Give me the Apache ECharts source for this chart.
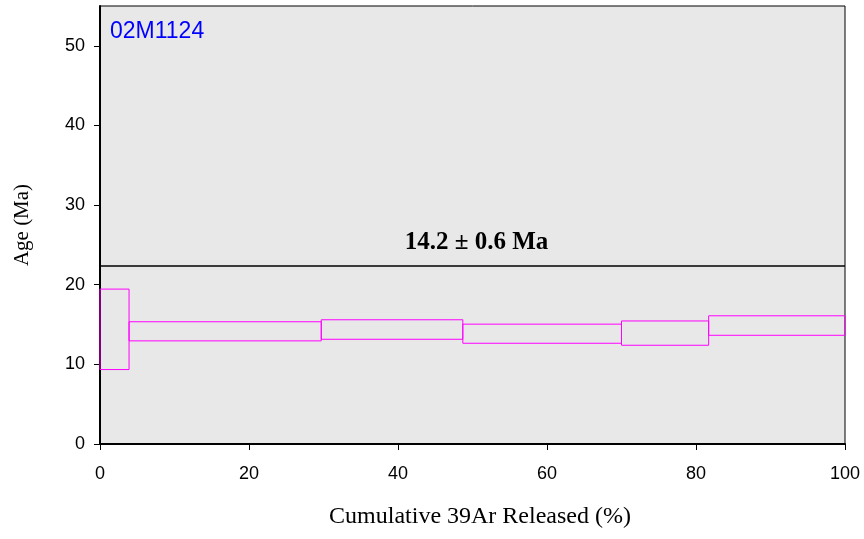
<!DOCTYPE html>
<html>
<head>
<meta charset="utf-8">
<script src="https://cdn.jsdelivr.net/npm/echarts@6/dist/echarts.min.js"></script>
<style>html,body{margin:0;padding:0;background:#fff;}#c{width:864px;height:539px;}</style>
</head>
<body>
<div id="c"></div>
<script>
// Step boundaries (cumulative 39Ar released, %)
var stepStart = [0, 3.9, 29.7, 48.7, 70.0, 81.7];
var stepEnd   = [3.9, 29.7, 48.7, 70.0, 81.7, 100];
// Age envelope per step (Ma)
var ageLow  = [9.35, 12.95, 13.15, 12.65, 12.4, 13.65];
var ageHigh = [19.45, 15.35, 15.6, 15.05, 15.45, 16.1];
var plateauLevel = 22.4;
var plateauText = '14.2 \u00b1 0.6 Ma';
var sampleName = '02M1124';
var xTicks = [0, 20, 40, 60, 80, 100];
var yTicks = [0, 10, 20, 30, 40, 50];

var boxes = stepStart.map(function (s, i) { return [s, stepEnd[i], ageLow[i], ageHigh[i]]; });

var chart = echarts.init(document.getElementById('c'));
chart.setOption({
  animation: false,
  grid: { left: 100, right: 19, top: 6, bottom: 95, show: true, backgroundColor: '#e8e8e8', borderColor: '#000', borderWidth: 1 },
  xAxis: {
    type: 'value', min: 0, max: 100, interval: 20,
    name: 'Cumulative 39Ar Released (%)', nameLocation: 'middle', nameGap: 61,
    nameTextStyle: { fontFamily: 'Liberation Serif', fontSize: 24, color: '#000', padding: [0, 0, 0, 15] },
    axisLine: { show: true, lineStyle: { color: '#000', width: 2 } },
    axisTick: { show: true, length: 6, lineStyle: { color: '#000', width: 1 } },
    axisLabel: { margin: 21, fontFamily: 'Liberation Sans', fontSize: 18, color: '#000' },
    splitLine: { show: false }
  },
  yAxis: {
    type: 'value', min: 0, max: 55, interval: 10,
    name: 'Age (Ma)', nameLocation: 'middle', nameGap: 67,
    nameTextStyle: { fontFamily: 'Liberation Serif', fontSize: 21, color: '#000' },
    axisLine: { show: true, lineStyle: { color: '#000', width: 2 } },
    axisTick: { show: true, length: 6, customValues: yTicks, lineStyle: { color: '#000', width: 1 } },
    axisLabel: { margin: 15, customValues: yTicks, fontFamily: 'Liberation Sans', fontSize: 18, color: '#000' },
    splitLine: { show: false }
  },
  graphic: [{
    type: 'text', left: 110, top: 20,
    style: { text: sampleName, fill: '#0000ff', font: '23px "Liberation Sans"' }
  }],
  series: [{
    type: 'custom',
    data: boxes,
    renderItem: function (params, api) {
      var p0 = api.coord([api.value(0), api.value(3)]);
      var p1 = api.coord([api.value(1), api.value(2)]);
      return {
        type: 'rect',
        shape: { x: p0[0], y: p0[1], width: p1[0] - p0[0], height: p1[1] - p0[1] },
        style: { fill: 'none', stroke: '#ff00ff', lineWidth: 1 }
      };
    },
    markLine: {
      silent: true, symbol: 'none',
      lineStyle: { color: '#000', width: 1.5, type: 'solid' },
      label: {
        show: true, position: 'insideMiddleTop', distance: 11, offset: [4, 0],
        formatter: plateauText,
        fontFamily: 'Liberation Serif', fontWeight: 'bold', fontSize: 25, color: '#000'
      },
      data: [{ yAxis: plateauLevel }]
    }
  }]
});
</script>
</body>
</html>
